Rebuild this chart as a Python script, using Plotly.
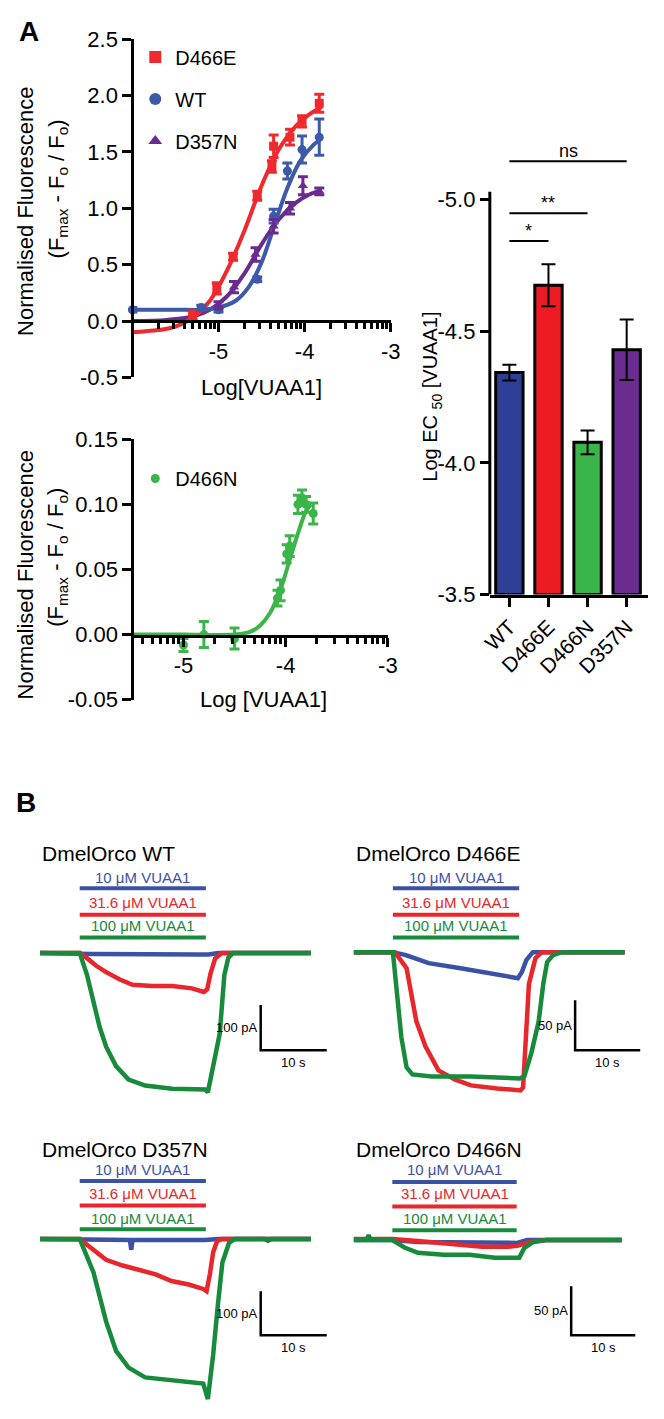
import math
import plotly.graph_objects as go

W, H = 664, 1419
FONT = "Liberation Sans, Arial, sans-serif"

def X(px):
    return px / W

def Y(py):
    return 1 - py / H

# ---------------- Panel A: concentration-response data ----------------
colors_A = {"D466E": "#EE2A2F", "WT": "#3D5AA9", "D357N": "#6A2B8E", "D466N": "#3BB54A"}
symbols_A = {"D466E": "square", "WT": "circle", "D357N": "triangle-up", "D466N": "circle"}

# measured points (log[VUAA1], response, SEM)
d466e_x = [-5.3, -5.02, -4.83, -4.55, -4.38, -4.36, -4.17, -4.03, -3.83]
d466e_y = [0.05, 0.29, 0.57, 1.11, 1.37, 1.55, 1.63, 1.77, 1.93]
d466e_e = [0.04, 0.05, 0.03, 0.04, 0.05, 0.1, 0.07, 0.05, 0.08]

wt_x = [-6.0, -5.2, -5.0, -4.55, -4.36, -4.2, -4.03, -3.83]
wt_y = [0.1, 0.12, 0.1, 0.37, 0.93, 1.33, 1.52, 1.63]
wt_e = [0.02, 0.02, 0.02, 0.02, 0.06, 0.07, 0.12, 0.16]

d357n_x = [-5.0, -4.82, -4.57, -4.36, -4.17, -4.02, -3.83]
d357n_y = [0.14, 0.30, 0.59, 0.84, 1.0, 1.2, 1.15]
d357n_e = [0.03, 0.05, 0.06, 0.06, 0.05, 0.08, 0.03]

# fitted curves
d466e_fit_x = [-6.0, -5.7, -5.5, -5.3, -5.1, -4.9, -4.7, -4.5, -4.3, -4.1, -3.95, -3.8]
d466e_fit_y = [-0.1, -0.08, -0.05, 0.03, 0.18, 0.45, 0.8, 1.2, 1.52, 1.73, 1.83, 1.9]
wt_fit_x = [-6.0, -5.5, -5.2, -5.0, -4.8, -4.65, -4.5, -4.35, -4.2, -4.05, -3.9, -3.8]
wt_fit_y = [0.1, 0.1, 0.1, 0.12, 0.18, 0.3, 0.52, 0.85, 1.18, 1.42, 1.56, 1.62]
d357n_fit_x = [-6.0, -5.6, -5.3, -5.1, -4.9, -4.7, -4.5, -4.3, -4.1, -3.95, -3.8]
d357n_fit_y = [0.0, 0.01, 0.04, 0.1, 0.22, 0.42, 0.68, 0.9, 1.05, 1.12, 1.16]

d466n_x = [-5.0, -4.8, -4.5, -4.08, -4.05, -3.99, -3.96, -3.88, -3.84, -3.8, -3.73]
d466n_y = [-0.008, 0.0, -0.003, 0.028, 0.034, 0.062, 0.068, 0.1, 0.105, 0.1, 0.093]
d466n_e = [0.005, 0.01, 0.008, 0.006, 0.008, 0.007, 0.008, 0.007, 0.006, 0.006, 0.008]
d466n_fit_x = [-5.5, -5.0, -4.5, -4.35, -4.25, -4.15, -4.05, -3.95, -3.87, -3.8, -3.75]
d466n_fit_y = [0.0, 0.0, 0.0, 0.002, 0.007, 0.017, 0.035, 0.06, 0.08, 0.095, 0.1]

# EC50 bar chart
ec50_cats = ["WT", "D466E", "D466N", "D357N"]
ec50_vals = [-4.343, -4.675, -4.078, -4.43]
ec50_err = [0.03, 0.08, 0.045, 0.115]
ec50_colors = ["#2E3F96", "#ED1C24", "#39B54A", "#6A2C8F"]
sig_pairs = [(0, 1, "*"), (0, 2, "**"), (0, 3, "ns")]
sig_levels = [-4.843, -4.948, -5.146]

# ---------------- Panel B: current traces ----------------
trace_colors = {"10": "#3A52A5", "31.6": "#E8262B", "100": "#178A3C"}
stim_labels = ["10 μM VUAA1", "31.6 μM VUAA1", "100 μM VUAA1"]
stim_keys = ["10", "31.6", "100"]

wt_traces = {
    "10": ([0, 6, 8, 24, 25.5, 27, 41], [0, 0, -2, -3, -3, 0, 0]),
    "31.6": ([0, 6.0, 7, 8.5, 10, 12, 14, 17, 20, 23, 24.8, 25.3, 25.8, 26.5, 27.5, 41],
             [0, 0, -10, -28, -42, -58, -70, -73, -73, -78, -86, -80, -45, -12, 0, 0]),
    "100": ([0, 6, 7.1, 8.1, 9.0, 10.0, 11.5, 13.4, 15.9, 20, 25.0, 25.4, 26.3, 27.2, 27.9, 28.5, 29.2, 41],
            [0, 0, -48, -106, -163, -207, -250, -280, -293, -300, -302, -308, -240, -178, -48, -10, 0, 0]),
}
d466e_traces = {
    "10": ([0, 6, 8, 11.5, 16.4, 21.5, 25.2, 25.8, 26.5, 27.5, 41.6], [0, 0, -3, -11, -16, -22, -26, -20, -8, 0, 0]),
    "31.6": ([0, 6.3, 8.1, 9.6, 11.0, 13.0, 15.5, 18, 22, 25.6, 26.0, 26.4, 26.9, 27.9, 28.9, 41.6],
             [0, 0, -16, -69, -94, -118, -127, -133, -136, -138, -135, -81, -32, -6, 0, 0]),
    "100": ([0, 6.0, 7.3, 8.1, 9.0, 12, 18, 25.5, 26.2, 27.3, 28.4, 29.1, 29.7, 30.6, 32, 41.6],
            [0, 0, -85, -115, -122, -124, -124, -126, -124, -100, -69, -32, -10, -3, 0, 0]),
}
d357n_traces = {
    "10": ([0, 6, 13.6, 13.8, 14.0, 25, 27, 34, 34.5, 35, 41], [0, 0, -2, -24, -2, -2, 0, 0, -4, 0, 0]),
    "31.6": ([0, 6, 7, 8.5, 10, 12.5, 14.9, 17.5, 19.9, 22.5, 24.7, 25.2, 25.7, 26.2, 26.8, 27.5, 41],
             [0, 0, -12, -30, -47, -60, -69, -80, -95, -103, -113, -118, -80, -30, -5, 0, 0]),
    "100": ([0, 6, 7.1, 8.1, 9.0, 10.0, 11.5, 13.4, 15.9, 19.9, 24.7, 25.4, 26.2, 26.9, 27.6, 28.6, 29.5, 41],
            [0, 0, -40, -76, -129, -187, -253, -291, -313, -320, -327, -362, -262, -151, -53, -9, 0, 0]),
}
d466n_traces = {
    "10": ([0, 6, 10, 20, 25.5, 27, 41.8], [0, 0, -2, -3, -3, 0, 0]),
    "31.6": ([0, 6, 10, 15, 20, 24, 25.5, 27.5, 30, 33, 41.8], [1, 1, -1, -4, -7, -7, -6, -2, 0, 0, 0]),
    "100": ([0, 2, 2.3, 2.6, 6, 8, 10, 14, 18, 22, 25.8, 26.6, 28, 30, 41.8],
            [0, 0, 5, 0, 0, -8, -13, -15, -15, -18, -18, -8, -2, 0, 0]),
}
panel_titles = ["DmelOrco WT", "DmelOrco D466E", "DmelOrco D357N", "DmelOrco D466N"]
panel_traces = [wt_traces, d466e_traces, d357n_traces, d466n_traces]
stim_start = [6.0, 6.0, 6.0, 6.0]
stim_end = [25.1, 25.4, 25.1, 25.4]
scale_time = [10, 10, 10, 10]
scale_current = [100, 50, 100, 50]
scale_corner_t = [33.4, 34.0, 33.4, 33.9]
scale_corner_i = [-215, -98, -218, -97]

fig = go.Figure()

# ---- top-left concentration response ----
pts = [("D466E", d466e_x, d466e_y, d466e_e), ("WT", wt_x, wt_y, wt_e), ("D357N", d357n_x, d357n_y, d357n_e)]
fits = {"D466E": (d466e_fit_x, d466e_fit_y), "WT": (wt_fit_x, wt_fit_y), "D357N": (d357n_fit_x, d357n_fit_y)}
for name in ["D357N", "WT", "D466E"]:
    fx, fy = fits[name]
    fig.add_trace(go.Scatter(x=fx, y=fy, mode="lines", line=dict(color=colors_A[name], width=4, shape="spline"),
                             showlegend=False, xaxis="x", yaxis="y", cliponaxis=False))
for name, xs, ys, es in pts:
    fig.add_trace(go.Scatter(x=xs, y=ys, mode="markers", name=name, legend="legend", legendgroup=name,
                             marker=dict(color=colors_A[name], symbol=symbols_A[name], size=9),
                             error_y=dict(type="data", array=es, color=colors_A[name], thickness=3, width=5),
                             xaxis="x", yaxis="y", cliponaxis=False))

# ---- bottom-left D466N ----
fig.add_trace(go.Scatter(x=d466n_fit_x, y=d466n_fit_y, mode="lines", line=dict(color=colors_A["D466N"], width=4, shape="spline"),
                         showlegend=False, xaxis="x2", yaxis="y2", cliponaxis=False))
fig.add_trace(go.Scatter(x=d466n_x, y=d466n_y, mode="markers", name="D466N", legend="legend2",
                         marker=dict(color=colors_A["D466N"], symbol="circle", size=9),
                         error_y=dict(type="data", array=d466n_e, color=colors_A["D466N"], thickness=3, width=5),
                         xaxis="x2", yaxis="y2", cliponaxis=False))

# ---- bar chart ----
fig.add_trace(go.Bar(x=list(range(len(ec50_cats))), y=[v - (-3.5) for v in ec50_vals], base=-3.5,
                     width=0.7, marker=dict(color=ec50_colors, line=dict(color="black", width=3)),
                     error_y=dict(type="data", array=ec50_err, color="black", thickness=2, width=7),
                     showlegend=False, xaxis="x3", yaxis="y3"))

shapes = []
annotations = []
for (a, b, txt), lvl in zip(sig_pairs, sig_levels):
    shapes.append(dict(type="line", xref="x3", yref="y3", x0=a, x1=b, y0=lvl, y1=lvl,
                       line=dict(color="black", width=2)))
    annotations.append(dict(xref="x3", yref="y3", x=(a + b) / 2, y=lvl, text=txt, showarrow=False,
                            yanchor="bottom", yshift=-2, font=dict(size=18, color="black", family=FONT)))
shapes.append(dict(type="line", xref="x3 domain", yref="y3", x0=0, x1=0, y0=-3.5, y1=-5.03,
                   line=dict(color="black", width=3)))

# ---- traces panels ----
# panel geometry: (domain left px, right px, top px, bottom px, t0 px, px per s, baseline px, px per pA)
geom = [
    (20, 332, 845, 1125, 32, 6.8, 958, 0.46),
    (340, 664, 845, 1125, 355, 6.7, 957, 1.02),
    (20, 332, 1145, 1419, 32, 6.8, 1249, 0.45),
    (340, 664, 1145, 1419, 355, 6.6, 1250, 1.0),
]
title_px = [(32, 857), (355, 857), (32, 1158), (355, 1158)]
bar_rows_px = [[881, 892, 906, 919, 930, 942], [881, 892, 906, 919, 930, 942],
               [1178, 1190, 1203, 1215, 1228, 1239], [1178, 1191, 1203, 1216, 1228, 1240]]

layout_axes = {}
for i, (g, tr) in enumerate(zip(geom, panel_traces)):
    lpx, rpx, tpx, bpx, t0, pxs, base, pxpa = g
    ax = i + 4
    xr = [(lpx - t0) / pxs, (rpx - t0) / pxs]
    yr = [(base - bpx) / pxpa, (base - tpx) / pxpa]
    layout_axes[f"xaxis{ax}"] = dict(domain=[X(lpx), X(rpx)], range=xr, visible=False, anchor=f"y{ax}")
    layout_axes[f"yaxis{ax}"] = dict(domain=[Y(bpx), Y(tpx)], range=yr, visible=False, anchor=f"x{ax}")
    for k in stim_keys:
        ts, vs = tr[k]
        fig.add_trace(go.Scatter(x=ts, y=vs, mode="lines", line=dict(color=trace_colors[k], width=4.5),
                                 showlegend=False, xaxis=f"x{ax}", yaxis=f"y{ax}"))
    annotations.append(dict(xref="paper", yref="paper", x=X(title_px[i][0]), y=Y(title_px[i][1]),
                            text=panel_titles[i], showarrow=False, xanchor="left", yanchor="middle",
                            font=dict(size=21, color="black", family=FONT)))
    rows = bar_rows_px[i]
    for j, k in enumerate(stim_keys):
        ybar = (base - rows[2 * j + 1]) / pxpa
        ylab = (base - rows[2 * j]) / pxpa
        shapes.append(dict(type="line", xref=f"x{ax}", yref=f"y{ax}", x0=stim_start[i], x1=stim_end[i],
                           y0=ybar, y1=ybar, line=dict(color=trace_colors[k], width=4)))
        annotations.append(dict(xref=f"x{ax}", yref=f"y{ax}", x=(stim_start[i] + stim_end[i]) / 2, y=ylab,
                                text=stim_labels[j], showarrow=False, xanchor="center", yanchor="middle",
                                font=dict(size=15, color=trace_colors[k], family=FONT)))
    ct, ci = scale_corner_t[i], scale_corner_i[i]
    fig.add_trace(go.Scatter(x=[ct, ct, ct + scale_time[i]], y=[ci + scale_current[i], ci, ci], mode="lines",
                             line=dict(color="black", width=2.5), showlegend=False,
                             xaxis=f"x{ax}", yaxis=f"y{ax}", cliponaxis=False))
    annotations.append(dict(xref=f"x{ax}", yref=f"y{ax}", x=ct, y=ci + scale_current[i] / 2,
                            text=f"{scale_current[i]} pA", showarrow=False, xanchor="right", yanchor="middle",
                            xshift=-1, font=dict(size=13, color="black", family=FONT)))
    annotations.append(dict(xref=f"x{ax}", yref=f"y{ax}", x=ct + scale_time[i] / 2, y=ci,
                            text=f"{scale_time[i]} s", showarrow=False, xanchor="center", yanchor="top",
                            yshift=-3, font=dict(size=13, color="black", family=FONT)))

def ann(px, py, text, size, angle=0, bold=False, xanchor="center"):
    annotations.append(dict(xref="paper", yref="paper", x=X(px), y=Y(py), text=f"<b>{text}</b>" if bold else text,
                            showarrow=False, textangle=angle, xanchor=xanchor, yanchor="middle",
                            font=dict(size=size, color="black", family=FONT)))

ann(21, 20, "A", 28, bold=True)
ann(18, 805, "B", 28, bold=True)
ann(17, 203, "Normalised Fluorescence", 22, angle=-90)
ann(50, 180, "(F<sub>max</sub> - F<sub>o</sub> / F<sub>o</sub>)", 22, angle=-90)
ann(260, 382, "Log[VUAA1]", 22)
ann(17, 573, "Normalised Fluorescence", 22, angle=-90)
ann(50, 555, "(F<sub>max</sub> - F<sub>o</sub> / F<sub>o</sub>)", 22, angle=-90)
ann(262, 700, "Log [VUAA1]", 22)
ann(435, 392, "Log EC <sub>50</sub> [VUAA1]", 20, angle=-90)

def minor_vals(lo, hi):
    out = []
    for d in range(lo, hi):
        for k in range(2, 10):
            out.append(d + math.log10(k))
    return out

tickfont = dict(size=22, color="black", family=FONT)

fig.update_layout(
    width=W, height=H, margin=dict(l=0, r=0, t=0, b=0), autosize=False,
    paper_bgcolor="white", plot_bgcolor="white",
    font=dict(family=FONT, color="black"),
    xaxis=dict(domain=[X(127), X(393)], range=[-6, -3], anchor="free", position=Y(315),
               showline=True, linewidth=3, linecolor="black", showgrid=False, zeroline=False,
               tickvals=[-5, -4, -3], ticktext=["-5", "-4", "-3"], ticks="outside", ticklen=9, tickwidth=3,
               tickcolor="black", tickfont=tickfont,
               minor=dict(tickvals=minor_vals(-6, -3), ticks="outside", ticklen=6, tickwidth=3, tickcolor="black")),
    yaxis=dict(domain=[Y(372), Y(27.5)], range=[-0.5, 2.5], anchor="free", position=X(127),
               showline=True, linewidth=3, linecolor="black", showgrid=False, zeroline=False,
               tickvals=[-0.5, 0, 0.5, 1.0, 1.5, 2.0, 2.5], ticktext=["-0.5", "0.0", "0.5", "1.0", "1.5", "2.0", "2.5"],
               ticks="outside", ticklen=9, tickwidth=3, tickcolor="black", tickfont=tickfont),
    xaxis2=dict(domain=[X(127), X(390)], range=[-5.5, -3], anchor="free", position=Y(635),
                showline=True, linewidth=3, linecolor="black", showgrid=False, zeroline=False,
                tickvals=[-5, -4, -3], ticktext=["-5", "-4", "-3"], ticks="outside", ticklen=9, tickwidth=3,
                tickcolor="black", tickfont=tickfont,
                minor=dict(tickvals=[v for v in minor_vals(-6, -3) if v > -5.5], ticks="outside", ticklen=6,
                           tickwidth=3, tickcolor="black")),
    yaxis2=dict(domain=[Y(700), Y(435)], range=[-0.05, 0.15], anchor="free", position=X(127),
                showline=True, linewidth=3, linecolor="black", showgrid=False, zeroline=False,
                tickvals=[-0.05, 0, 0.05, 0.10, 0.15], ticktext=["-0.05", "0.00", "0.05", "0.10", "0.15"],
                ticks="outside", ticklen=9, tickwidth=3, tickcolor="black", tickfont=tickfont),
    xaxis3=dict(domain=[X(495), X(658)], range=[-0.5, 3.55], anchor="y3",
                showline=True, linewidth=3, linecolor="black", showgrid=False, zeroline=False,
                tickvals=list(range(len(ec50_cats))), ticktext=ec50_cats, tickangle=-45,
                ticks="outside", ticklen=9, tickwidth=3, tickcolor="black", tickfont=dict(size=21, color="black", family=FONT)),
    yaxis3=dict(domain=[Y(593), Y(140)], range=[-3.5, -3.5 - (593 - 140) / 268], anchor="x3",
                showline=False, showgrid=False, zeroline=False,
                tickvals=[-5.0, -4.5, -4.0, -3.5], ticktext=["-5.0", "-4.5", "-4.0", "-3.5"],
                ticks="outside", ticklen=9, tickwidth=3, tickcolor="black", tickfont=tickfont),
    legend=dict(x=X(130), y=Y(26), xanchor="left", yanchor="top", bgcolor="rgba(0,0,0,0)",
                font=dict(size=20, color="black", family=FONT), tracegroupgap=13, itemsizing="constant"),
    legend2=dict(x=X(130), y=Y(455), xanchor="left", yanchor="top", bgcolor="rgba(0,0,0,0)",
                 font=dict(size=20, color="black", family=FONT)),
    shapes=shapes, annotations=annotations,
    **layout_axes,
)

fig.write_html("out.html", config={"displayModeBar": False},
               post_script="document.body.style.margin='0';document.body.style.overflow='hidden';")
